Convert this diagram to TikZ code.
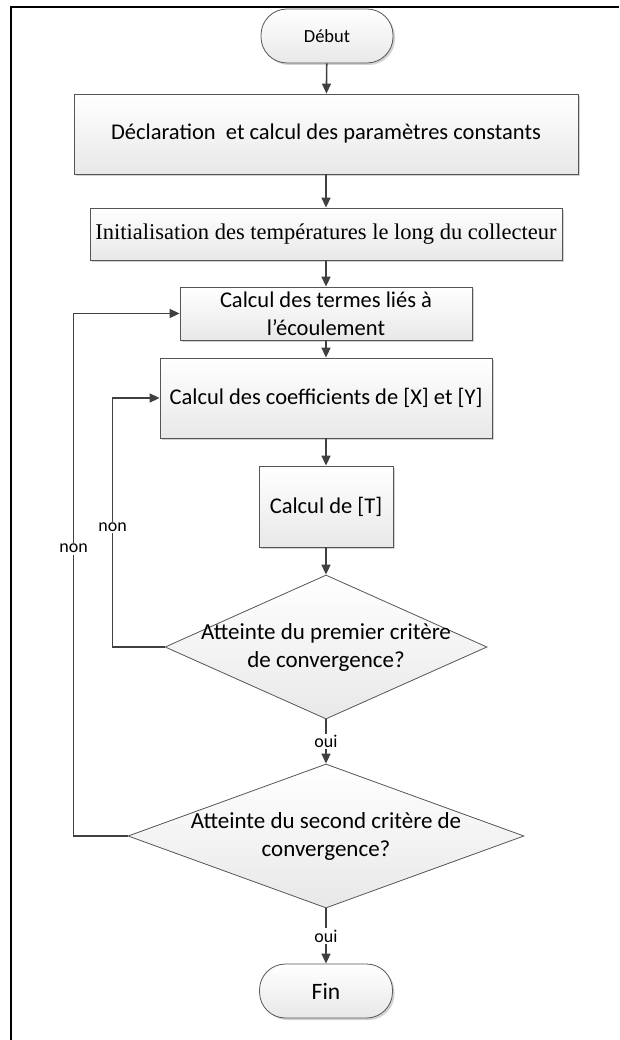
\documentclass[tikz,border=0pt]{standalone}
\usepackage{fontspec}
\setmainfont{Carlito}
\newfontfamily\timesfont{Liberation Serif}
\usetikzlibrary{shapes.geometric,shadows,arrows.meta}
\definecolor{linegray}{HTML}{404040}
\definecolor{edgegray}{HTML}{555555}

\begin{document}
\begin{tikzpicture}[x=1pt,y=-1pt,
    box/.style={rectangle,draw=edgegray,line width=0.8pt,top color=white,bottom color=black!9,
        drop shadow={shadow xshift=2pt,shadow yshift=-2pt,fill=black!35,opacity=0.5},
        align=center,inner sep=0pt,font=\fontsize{22.5}{28}\selectfont},
    term/.style={box,rounded corners=26pt},
    decision/.style={diamond,draw=edgegray,line width=0.8pt,top color=white,bottom color=black!9,inner sep=0pt},
    dtext/.style={align=center,font=\fontsize{23}{28}\selectfont},
    arr/.style={-{Triangle[length=10pt,width=9pt]},draw=linegray,line width=1.6pt},
    lbl/.style={fill=white,inner sep=1.5pt,font=\fontsize{18}{20}\selectfont}]
    \useasboundingbox (0,0) rectangle (619,1040);
    % cadre
    \draw[line width=2.5pt] (619,7) -- (11,7) -- (11,1040);
    % blocs
    \node[term,minimum width=132pt,minimum height=54pt,font=\fontsize{18.5}{20}\selectfont] (debut) at (327,36) {Début};
    \node[box,minimum width=504pt,minimum height=80pt] (decl) at (326,134) {Déclaration\ \ et calcul des paramètres constants};
    \node[box,minimum width=472pt,minimum height=52pt,font=\timesfont\fontsize{22.5}{26}\selectfont] (init) at (326,234) {Initialisation des températures le long du collecteur};
    \node[box,minimum width=292pt,minimum height=53pt] (termes) at (326,313.5) {Calcul des termes liés à\\l’écoulement};
    \node[box,minimum width=332pt,minimum height=80pt] (coef) at (326,398) {Calcul des coefficients de [X] et [Y]};
    \node[box,minimum width=134pt,minimum height=81pt] (calT) at (326,506.5) {Calcul de [T]};
    \node[decision,minimum width=322pt,minimum height=144pt] (crit1) at (326,647) {};
    \node[dtext] at (crit1) {Atteinte du premier critère\\de convergence?};
    \node[decision,minimum width=396pt,minimum height=144pt] (crit2) at (326,836) {};
    \node[dtext] at (crit2) {Atteinte du second critère de\\convergence?};
    \node[term,minimum width=133pt,minimum height=54pt,font=\fontsize{23.5}{25}\selectfont] (fin) at (326,991) {Fin};
    % liaisons
    \draw[arr] (debut) -- (decl);
    \draw[arr] (decl) -- (init);
    \draw[arr] (init) -- (termes);
    \draw[arr] (termes) -- (coef);
    \draw[arr] (coef) -- (calT);
    \draw[arr] (calT) -- (crit1);
    \draw[arr] (crit1) -- node[lbl] {oui} (crit2);
    \draw[arr] (crit2) -- node[lbl] {oui} (fin);
    % boucles
    \draw[arr] (crit1.west) -- ++(-52,0) |- node[lbl,pos=0.24] {non} (coef.west);
    \draw[arr] (crit2.west) -- ++(-54,0) |- node[lbl,pos=0.275] {non} (termes.west);
\end{tikzpicture}
\end{document}
